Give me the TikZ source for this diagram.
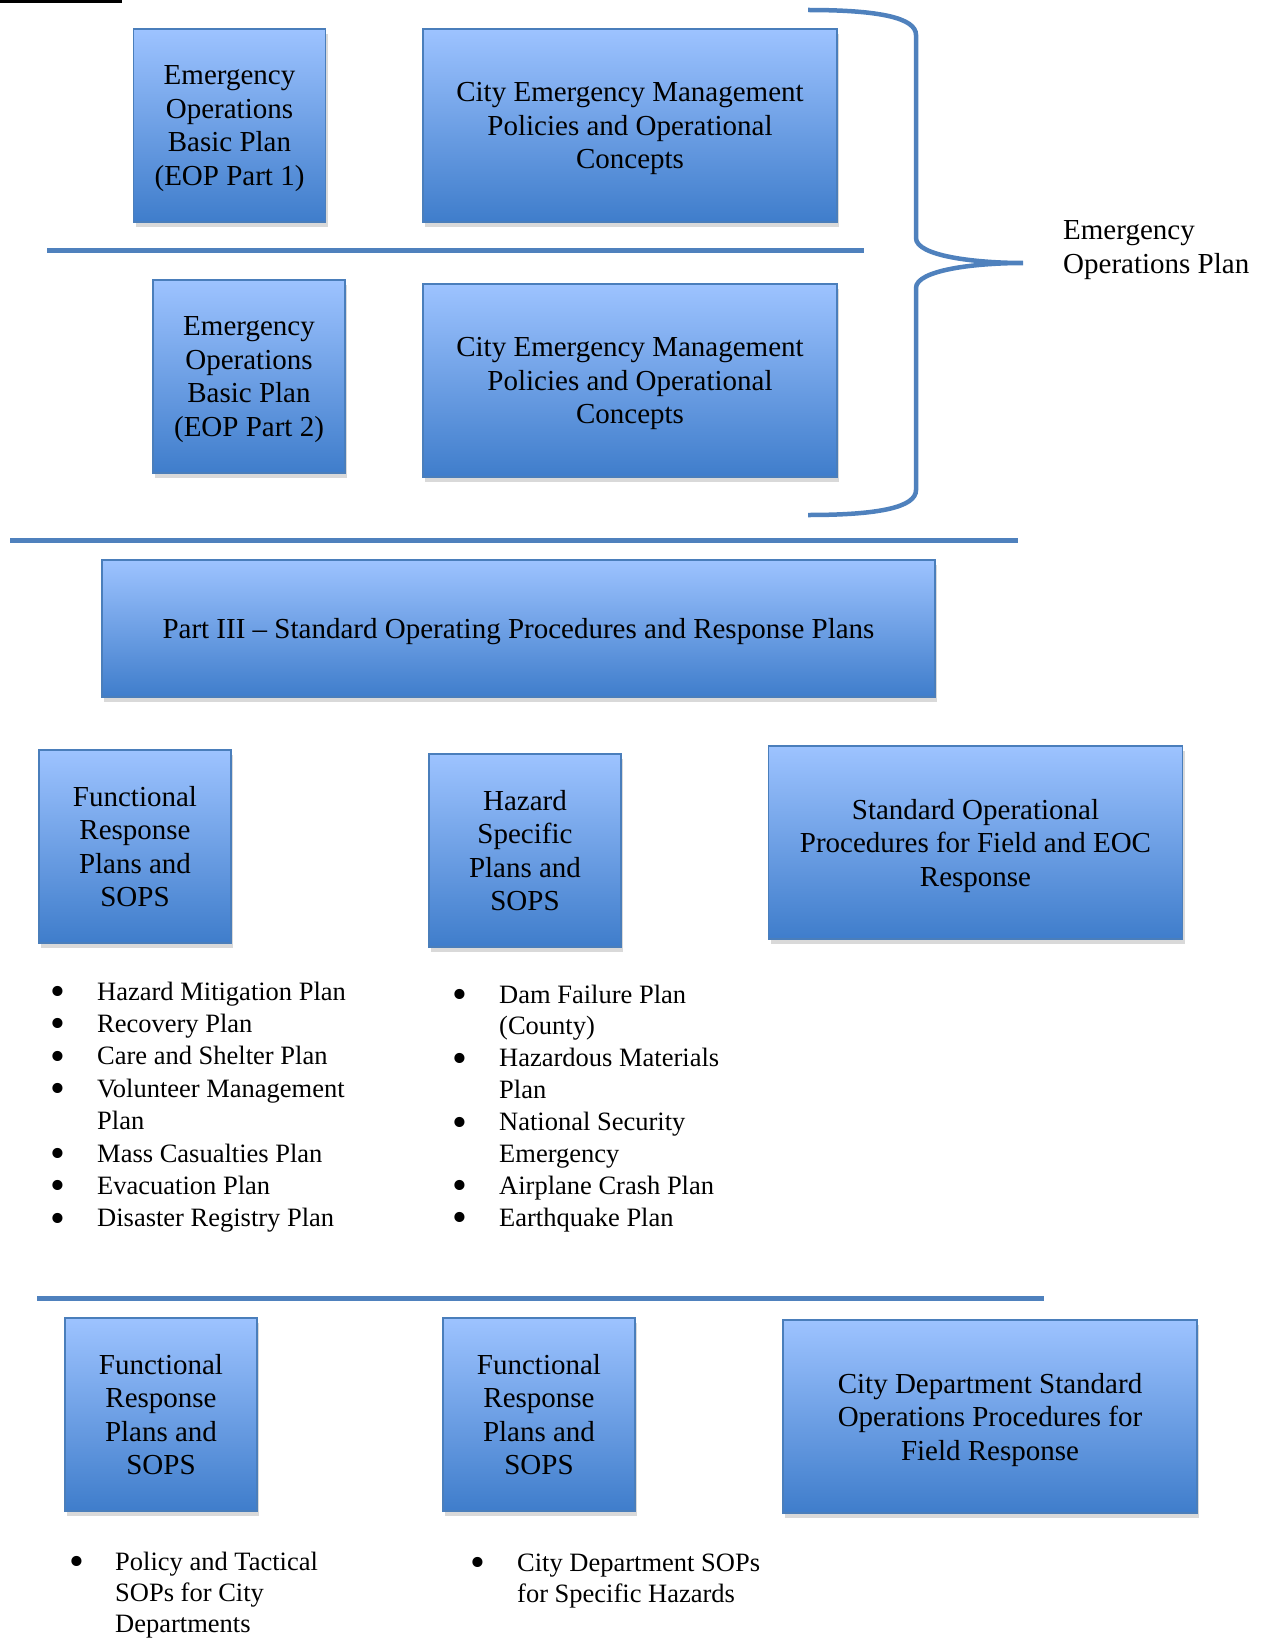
\documentclass[tikz,border=0pt]{standalone}
\usepackage{fontspec}
\setmainfont{Liberation Serif}
\usetikzlibrary{shadows}
\definecolor{boxtop}{HTML}{9DC3FF}
\definecolor{boxbottom}{HTML}{3F7DCB}
\definecolor{boxedge}{HTML}{4A7EBB}
\definecolor{ruleblue}{HTML}{4F81BD}
\newcommand{\planbullet}{\smash{\raisebox{-5.5pt}{\scalebox{1.6}{\textbullet}}}}

\begin{document}
\begin{tikzpicture}[x=1pt,y=-1pt,
  planbox/.style={draw=boxedge,line width=1.2pt,top color=boxtop,bottom color=boxbottom,
    align=center,inner sep=0pt,text depth=0pt,font=\fontsize{29}{33.5}\selectfont,
    drop shadow={shadow xshift=2pt,shadow yshift=-5pt,opacity=0.3}},
  squarebox/.style={planbox,minimum width=192pt,minimum height=193pt},
  widebox/.style={planbox,minimum width=414pt,minimum height=193pt},
  divider/.style={draw=ruleblue,line width=5pt},
  planlist/.style={anchor=base west,inner sep=0pt,font=\fontsize{26.5}{32.4}\selectfont}]
  \useasboundingbox (0,0) rectangle (1265,1640);
  \fill (0,0) rectangle (122,3);

  % EOP parts 1 and 2
  \node[squarebox] (eop1) at (229.5,125.5) {Emergency\\Operations\\Basic Plan\\(EOP Part 1)};
  \node[widebox]   (city1) at (630,125.5) {City Emergency Management\\Policies and Operational\\Concepts};
  \draw[divider] (47,250) -- (864,250);
  \node[squarebox] (eop2) at (249,376.5) {Emergency\\Operations\\Basic Plan\\(EOP Part 2)};
  \node[widebox]   (city2) at (630,380.5) {City Emergency Management\\Policies and Operational\\Concepts};

  % brace
  \draw[draw=ruleblue,line width=4.5pt]
    (808,10) .. controls (880,10) and (916,18) .. (916,35) -- (916,238)
    .. controls (916,256) and (975,263) .. (1023,263)
    .. controls (975,263) and (916,270) .. (916,288) -- (916,490)
    .. controls (916,507) and (880,515) .. (808,515);
  \node[anchor=west,align=left,inner sep=0pt,font=\fontsize{29}{34.5}\selectfont]
    (eoplabel) at (1063,250) {Emergency\\Operations Plan};

  \draw[divider] (10,540) -- (1018,540);

  % part III
  \node[planbox,minimum width=833pt,minimum height=137pt] (part3) at (518.5,628.5)
    {Part III -- Standard Operating Procedures and Response Plans};
  \node[squarebox] (func) at (135,846.5) {Functional\\Response\\Plans and\\SOPS};
  \node[squarebox] (hazard) at (525,850.5) {Hazard\\Specific\\Plans and\\SOPS};
  \node[widebox]   (fieldsop) at (975.5,842.5) {Standard Operational\\Procedures for Field and EOC\\Response};

  \node[planlist] (funclist) at (50,1000) {\begin{tabular}[t]{@{}p{47pt}@{}l@{}}
    \planbullet & Hazard Mitigation Plan\\
    \planbullet & Recovery Plan\\
    \planbullet & Care and Shelter Plan\\
    \planbullet & Volunteer Management\\
                & Plan\\
    \planbullet & Mass Casualties Plan\\
    \planbullet & Evacuation Plan\\
    \planbullet & Disaster Registry Plan
  \end{tabular}};
  \node[planlist,font=\fontsize{26.5}{31.9}\selectfont] (hazardlist) at (452,1003) {\begin{tabular}[t]{@{}p{47pt}@{}l@{}}
    \planbullet & Dam Failure Plan\\
                & (County)\\
    \planbullet & Hazardous Materials\\
                & Plan\\
    \planbullet & National Security\\
                & Emergency\\
    \planbullet & Airplane Crash Plan\\
    \planbullet & Earthquake Plan
  \end{tabular}};

  \draw[divider] (37,1298) -- (1044,1298);

  % city department SOPs
  \node[squarebox] (funca) at (161,1414.5) {Functional\\Response\\Plans and\\SOPS};
  \node[squarebox] (funcb) at (539,1414.5) {Functional\\Response\\Plans and\\SOPS};
  \node[widebox]   (citydept) at (990,1416.5) {City Department Standard\\Operations Procedures for\\Field Response};

  \node[planlist,font=\fontsize{26.5}{31}\selectfont] (funcalist) at (69,1570) {\begin{tabular}[t]{@{}p{46pt}@{}l@{}}
    \planbullet & Policy and Tactical\\
                & SOPs for City\\
                & Departments
  \end{tabular}};
  \node[planlist,font=\fontsize{26.5}{31}\selectfont] (funcblist) at (470,1571) {\begin{tabular}[t]{@{}p{47pt}@{}l@{}}
    \planbullet & City Department SOPs\\
                & for Specific Hazards
  \end{tabular}};
\end{tikzpicture}
\end{document}
